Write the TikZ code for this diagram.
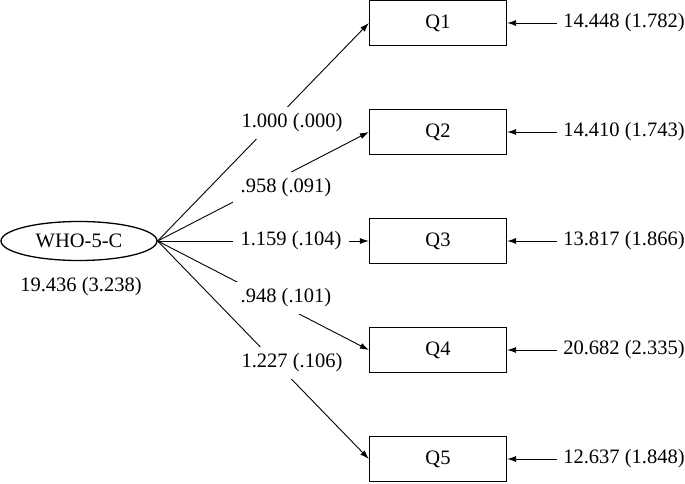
\documentclass[tikz,border=0pt]{standalone}
\usepackage{fontspec}
\setmainfont{Liberation Serif}
\usetikzlibrary{arrows.meta,positioning,shapes.geometric}
\begin{document}
\begin{tikzpicture}[x=1pt,y=-1pt,font=\fontsize{20.5}{24}\selectfont, item/.style={draw,rectangle,line width=1.3pt,minimum width=137pt,minimum height=45pt,inner sep=0pt}, factor/.style={draw,ellipse,line width=1.3pt,minimum width=156pt,minimum height=39pt,inner sep=0pt}, est/.style={fill=white,inner xsep=8pt,inner ysep=7pt}, load/.style={-{Latex[length=9pt,width=6pt]},line width=0.9pt}]
\useasboundingbox (0,0) rectangle (685,484);
\node[factor] (who) at (79,241) {WHO-5-C};
\node (whovar) at (81,287) {19.436 (3.238)};
% items and their error variances
\foreach \i/\y/\err in {1/23/14.448 (1.782),2/132/14.410 (1.743),3/241/13.817 (1.866),4/350/20.682 (2.335),5/459/12.637 (1.848)}{
  \node[item] (q\i) at (438,\y) {Q\i};
  \node[inner sep=6pt] (e\i) at (624,\y) {\err};
  \draw[load] (e\i) -- (q\i);
  \draw[load] (who.east) -- (q\i.west);
}
% loadings
\node[est] (l1) at (292,123) {1.000 (.000)};
\node[est] (l2) at (286,188) {.958 (.091)};
\node[est] (l3) at (291,241) {1.159 (.104)};
\node[est] (l4) at (286,298) {.948 (.101)};
\node[est] (l5) at (292,363) {1.227 (.106)};
\end{tikzpicture}
\end{document}
